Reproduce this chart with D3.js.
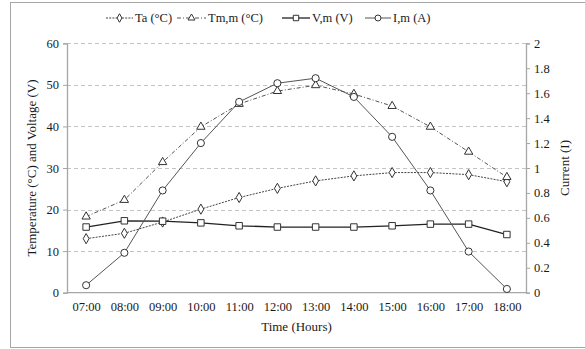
<!DOCTYPE html>
<html><head><meta charset="utf-8">
<script src="https://cdn.jsdelivr.net/npm/d3@7"></script>
<style>body{margin:0;background:#fff}svg, svg text{font-family:"Liberation Serif","Times New Roman",Times,serif !important}</style>
</head><body><svg id="c" width="585" height="349"></svg>
<script>
const hours = ["07:00","08:00","09:00","10:00","11:00","12:00","13:00","14:00","15:00","16:00","17:00","18:00"];
const ta  = [13.0,14.3,17.0,20.1,22.9,25.1,26.9,28.1,28.9,28.9,28.4,26.7];
const tm  = [18.3,22.3,31.4,39.9,45.4,48.5,49.9,47.8,44.9,39.9,33.9,27.8];
const vm  = [15.8,17.3,17.2,16.8,16.1,15.8,15.8,15.8,16.1,16.5,16.5,14.0];
const im  = [0.06,0.32,0.82,1.20,1.53,1.68,1.72,1.57,1.25,0.82,0.33,0.03];
const leftTicks = [0,10,20,30,40,50,60];
const rightTicks = [0,0.2,0.4,0.6,0.8,1,1.2,1.4,1.6,1.8,2];
const legendNames = ["Ta (°C)","Tm,m (°C)","V,m (V)","I,m (A)"];

const svg = d3.select("#c");
const L=67, R=526, T=43.3, B=292.7;
const x = d3.scalePoint().domain(hours).range([L,R]).padding(0.5);
const yL = d3.scaleLinear().domain([0,60]).range([B,T]);
const yR = d3.scaleLinear().domain([0,2]).range([B,T]);

svg.append("rect").attr("x",10.5).attr("y",2.5).attr("width",590).attr("height",345)
  .attr("fill","none").attr("stroke","#a6a6a6").attr("stroke-width",1);

// gridlines
svg.append("g").selectAll("line").data(leftTicks.filter(d=>d>0)).join("line")
  .attr("x1",L).attr("x2",R).attr("y1",d=>Math.round(yL(d))+0.5).attr("y2",d=>Math.round(yL(d))+0.5)
  .attr("stroke","#c4c4c4").attr("stroke-dasharray","4,3").attr("stroke-width",1);

// axes
const axL = d3.axisLeft(yL).tickValues(leftTicks).tickSize(4).tickPadding(4);
const gL = svg.append("g").attr("transform",`translate(${L},0)`).call(axL);
const axR = d3.axisRight(yR).tickValues(rightTicks).tickFormat(d3.format("~g")).tickSize(4).tickPadding(4);
const gR = svg.append("g").attr("transform",`translate(${R},0)`).call(axR);
const axB = d3.axisBottom(x).tickSize(0).tickPadding(9);
const gB = svg.append("g").attr("transform",`translate(0,${B})`).call(axB);
[gL,gR,gB].forEach(g=>{
  g.attr("font-family",null);
  g.selectAll(".domain").attr("stroke","#a6a6a6").attr("stroke-width",1.3);
  g.selectAll(".tick line").attr("stroke","#a6a6a6");
  g.selectAll("text").attr("font-size",12.5).attr("fill","#1a1a1a");
});
gB.select(".domain").attr("d",`M${L},0H${R}`);

// titles
svg.append("text").attr("transform",`translate(36,${(T+B)/2}) rotate(-90)`).attr("text-anchor","middle")
  .attr("font-size",13).attr("fill","#1a1a1a").text("Temperature  (°C) and Voltage (V)");
svg.append("text").attr("transform",`translate(569,${(T+B)/2}) rotate(-90)`).attr("text-anchor","middle")
  .attr("font-size",13).attr("fill","#1a1a1a").text("Current (I)");
svg.append("text").attr("x",(L+R)/2).attr("y",331).attr("text-anchor","middle")
  .attr("font-size",13).attr("fill","#1a1a1a").text("Time (Hours)");

const series = [
  {vals:ta, y:yL, dash:"2,1.2", color:"#444", w:1, shape:d3.symbolDiamond, size:30},
  {vals:tm, y:yL, dash:"4,2,1,2", color:"#555", w:1, shape:d3.symbolTriangle, size:30},
  {vals:vm, y:yL, dash:null, color:"#222", w:1.3, shape:d3.symbolSquare, size:42},
  {vals:im, y:yR, dash:null, color:"#555", w:1, shape:d3.symbolCircle, size:40},
];
const line = (s)=>d3.line().x((d,i)=>x(hours[i])).y(d=>s.y(d));
series.forEach(s=>{
  svg.append("path").attr("d",line(s)(s.vals)).attr("fill","none").attr("stroke",s.color)
    .attr("stroke-width",s.w).attr("stroke-dasharray",s.dash);
});
series.forEach(s=>{
  svg.append("g").selectAll("path").data(s.vals).join("path")
    .attr("transform",(d,i)=>`translate(${x(hours[i])},${s.y(d)})`)
    .attr("d",d3.symbol().type(s.shape).size(s.size)).attr("fill","#fff")
    .attr("stroke","#333").attr("stroke-width",1);
});

// legend
const legX = [106,177,282,365];
const legT = [135,208,312,393];
series.forEach((s,i)=>{
  const g = svg.append("g");
  g.append("line").attr("x1",legX[i]).attr("x2",legT[i]-2).attr("y1",18).attr("y2",18)
    .attr("stroke",s.color).attr("stroke-width",s.w).attr("stroke-dasharray",s.dash);
  g.append("path").attr("transform",`translate(${(legX[i]+legT[i]-2)/2},18)`)
    .attr("d",d3.symbol().type(s.shape).size(s.size*0.7)).attr("fill","#fff").attr("stroke","#333");
  g.append("text").attr("x",legT[i]).attr("y",22).attr("font-size",12.5).attr("fill","#1a1a1a").text(legendNames[i]);
});
</script></body></html>
